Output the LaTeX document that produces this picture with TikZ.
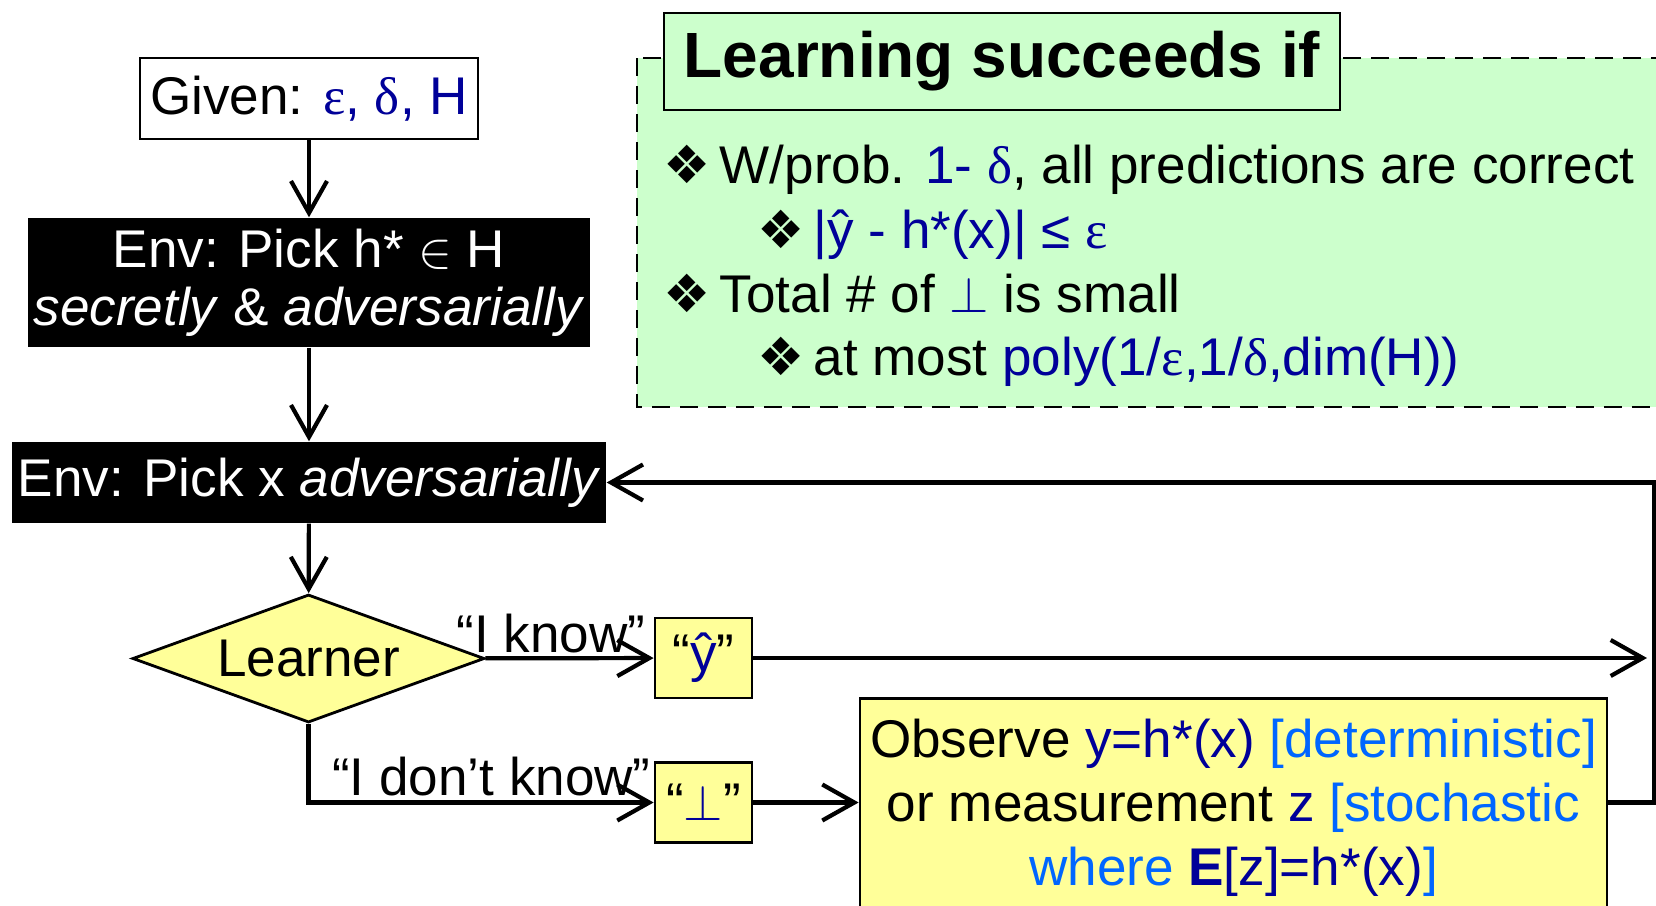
\documentclass[tikz,border=0pt]{standalone}
\usepackage{fontspec}
\setmainfont{Liberation Sans}
\newfontfamily\greekserif{Liberation Serif}
\newfontfamily\dingfont{DejaVu Sans}
\usetikzlibrary{arrows.meta,shapes.geometric}

\definecolor{navyblue}{RGB}{0,0,153}
\definecolor{skyblue}{RGB}{0,102,255}
\definecolor{mintgreen}{RGB}{204,255,204}
\definecolor{paleyellow}{RGB}{255,255,153}

\newcommand{\gk}[1]{{\greekserif #1}}
\newcommand{\dmark}{\makebox[0.56cm][l]{\dingfont\fontsize{15}{15}\selectfont ❖}}

\begin{document}
\begin{tikzpicture}[font=\fontsize{15.1}{18.2}\selectfont]

    \tikzset{
      plainbox/.style={
        draw,
        line width=0.8pt,
        inner sep=0pt,
      },
      envbox/.style={
        fill=black,
        text=white,
        inner sep=0pt,
        align=center,
      },
      yellowbox/.style={
        plainbox,
        fill=paleyellow,
      },
      bulletline/.style={
        anchor=base west,
        inner sep=0pt,
      },
      flow/.style={
        line width=1.2pt,
        -{Straight Barb[length=0.32cm,width=0.36cm]},
      },
    }
    \useasboundingbox (0,0) rectangle (16.56,-9.06);
    \clip (0,0) rectangle (16.56,-9.06);

	% success conditions
	\draw[fill=mintgreen, line width=0.8pt, dash pattern=on 0.18cm off 0.1cm] (6.37,-0.58) rectangle (17,-4.07);
	\node[plainbox, fill=mintgreen, minimum width=6.76cm, minimum height=0.97cm, font=\fontsize{18.2}{22}\selectfont\bfseries] (title) at (10.02,-0.615) {\raisebox{-0.05cm}{Learning succeeds if}};

	\node[bulletline] (ruleone) at (6.63,-1.83) {\dmark W/prob. \textcolor{navyblue}{1- \gk{δ}}, all predictions are correct};
	\node[bulletline] (ruletwo) at (7.57,-2.48) {\dmark \textcolor{navyblue}{|ŷ - h*(x)| ≤ \gk{ε}}};
	\node[bulletline] (rulethree) at (6.63,-3.12) {\dmark Total \# of \textcolor{navyblue}{$\perp$} is small};
	\node[bulletline] (rulefour) at (7.57,-3.75) {\dmark at most \textcolor{navyblue}{poly(1/\gk{ε},1/\gk{δ},dim(H))}};

	% protocol
	\node[plainbox, fill=white, minimum width=3.38cm, minimum height=0.81cm] (given) at (3.09,-0.985) {\raisebox{-0.04cm}{Given: \textcolor{navyblue}{\gk{ε}, \gk{δ}, H}}};
	\node[envbox, minimum width=5.62cm, minimum height=1.29cm] (pickh) at (3.09,-2.825) {\raisebox{-0.06cm}{Env: Pick h* $\in$ H}\\ \textit{secretly} \& \textit{adversarially}};
	\node[envbox, minimum width=5.94cm, minimum height=0.81cm] (pickx) at (3.09,-4.825) {\raisebox{-0.05cm}{Env: Pick x \textit{adversarially}}};
	\node[yellowbox, diamond, aspect=2.75, minimum width=3.52cm, minimum height=1.28cm] (learner) at (3.085,-6.585) {Learner};

	\node[yellowbox, minimum width=0.97cm, minimum height=0.8cm] (yhat) at (7.035,-6.58) {“\textcolor{navyblue}{ŷ}”};
	\node[yellowbox, minimum width=0.97cm, minimum height=0.8cm] (abstain) at (7.035,-8.025) {“\textcolor{navyblue}{$\perp$}”};
	\node[yellowbox, anchor=north, minimum width=7.47cm, inner ysep=0.21cm, align=center] (observe) at (12.335,-6.97) {Observe \textcolor{navyblue}{y=h*(x)} \textcolor{skyblue}{[deterministic]}\\ or measurement \textcolor{navyblue}{z} \textcolor{skyblue}{[stochastic}\\ \textcolor{skyblue}{where} \textcolor{navyblue}{\textbf{E}[z]=h*(x)}\textcolor{skyblue}{]}};

	\coordinate (yend) at (16.47,-6.58);

	\draw[flow] (given) -- (pickh);
	\draw[flow] (pickh) -- (pickx);
	\draw[flow] (pickx) -- (learner);
	\draw[flow] (learner) -- node[pos=0.39, anchor=base, yshift=0.06cm, inner sep=0pt] {“I know”} (yhat);
	\draw[flow] (learner.south) |- node[pos=0.765, anchor=base, yshift=0.07cm, inner sep=0pt] {“I don’t know”} (abstain);
	\draw[flow] (abstain.east) -- (abstain.east -| observe.west);
	\draw[flow] (yhat) -- (yend);
	\draw[flow] (abstain -| observe.east) -- ++(0.46,0) |- (pickx.east);

\end{tikzpicture}
\end{document}
